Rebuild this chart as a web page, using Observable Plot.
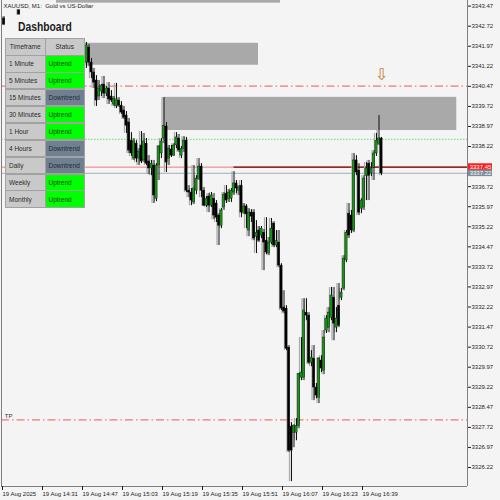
<!DOCTYPE html>
<html><head><meta charset="utf-8">
<script src="https://cdn.jsdelivr.net/npm/d3@7"></script>
<script src="https://cdn.jsdelivr.net/npm/@observablehq/plot@0.6"></script>
<style>
html,body{margin:0;padding:0;background:#f4f4f4;}
#wrap{position:relative;width:500px;height:500px;overflow:hidden;font-family:"Liberation Sans",Arial,sans-serif;}
#wrap svg{display:block;}
.cell{position:absolute;box-sizing:border-box;border:1px solid #a2a2a2;display:flex;align-items:center;padding-left:3px;font-size:6.5px;color:#2a2a2a;white-space:nowrap;}
.dtitle{position:absolute;font-weight:bold;font-size:12px;line-height:12px;color:#1c1c1c;transform:scaleX(0.86);transform-origin:left top;white-space:nowrap;}
</style></head><body><div id="wrap"></div>
<script>
// ---------- data ----------
const symbolTitle = "XAUUSD, M1:  Gold vs US-Dollar";
const dashboardTitle = "Dashboard";
const dashHeader = ["Timeframe", "Status"];
const timeframes = ["1 Minute","5 Minutes","15 Minutes","30 Minutes","1 Hour","4 Hours","Daily","Weekly","Monthly"];
const statuses = ["Uptrend","Uptrend","Downtrend","Uptrend","Uptrend","Downtrend","Downtrend","Uptrend","Uptrend"];

const earlyTimes = ["14:16","14:22"];
const earlyOpen  = [3343.01, 3343.31];
const earlyHigh  = [3343.08, 3343.34];
const earlyLow   = [3342.74, 3343.12];
const earlyClose = [3342.78, 3343.16];

const blockStart = "14:49"; // consecutive M1 bars from here
const open = [
3341.36,3341.92,3341.36,3340.99,3340.69,3340.09,3340.28,3340.54,3340.20,3340.39,
3340.09,3339.79,3339.72,3339.94,3339.75,3339.57,3339.38,3339.12,3338.44,3337.77,
3338.33,3337.77,3338.26,3337.70,3338.33,3337.66,3337.40,3337.51,3336.27,3337.51,
3337.96,3338.52,3338.97,3337.77,3338.11,3337.88,3338.26,3338.52,3337.88,3338.14,
3338.44,3336.57,3336.50,3336.13,3336.57,3337.02,3337.47,3336.57,3336.01,3336.35,
3336.01,3336.27,3336.09,3335.64,3335.26,3335.94,3336.46,3336.27,3336.27,3336.50,
3336.84,3336.57,3336.76,3335.75,3335.98,3335.08,3335.75,3335.75,3334.85,3335.08,
3334.89,3335.00,3334.70,3334.22,3334.63,3335.34,3334.52,3334.63,3333.77,3332.20,
3332.16,3330.70,3327.75,3327.52,3327.52,3327.78,3329.58,3329.58,3332.01,3331.90,
3330.14,3330.29,3329.21,3328.83,3330.22,3329.84,3331.34,3331.45,3331.82,3332.57,
3331.45,3332.27,3332.57,3332.91,3333.96,3335.71,3335.64,3335.08,3337.70,3337.32,
3335.90,3335.94,3337.13,3337.58,3337.21,3337.43,3337.96,3338.33,3338.52];
const high = [
3342.11,3342.03,3341.51,3341.14,3340.87,3340.69,3340.54,3340.84,3340.46,3340.61,
3340.31,3340.09,3340.58,3340.05,3339.90,3339.72,3339.53,3339.27,3338.74,3338.52,
3338.44,3338.14,3338.78,3338.71,3338.52,3337.88,3337.70,3337.70,3337.58,3338.26,
3338.52,3340.05,3339.12,3338.26,3338.26,3338.33,3338.74,3338.67,3338.22,3338.59,
3338.56,3336.76,3336.65,3337.51,3337.13,3337.77,3337.58,3336.69,3336.35,3336.46,
3336.50,3336.46,3336.20,3335.71,3335.90,3336.50,3336.76,3336.61,3336.65,3337.28,
3336.95,3336.76,3336.95,3336.09,3336.05,3335.90,3335.86,3335.86,3335.45,3335.23,
3335.23,3335.12,3335.56,3334.82,3335.53,3335.41,3335.08,3335.08,3333.84,3332.83,
3332.27,3330.78,3327.90,3327.82,3328.05,3329.73,3331.08,3332.53,3332.53,3332.01,
3330.59,3330.78,3329.36,3330.33,3330.40,3331.34,3331.90,3332.20,3332.95,3332.95,
3332.20,3333.10,3332.91,3334.14,3335.08,3336.09,3335.83,3337.96,3337.88,3337.58,
3336.27,3337.13,3337.62,3337.70,3337.62,3338.07,3338.71,3339.38,3338.56];
const low = [
3341.14,3341.21,3340.76,3340.39,3339.72,3339.94,3340.09,3340.01,3340.09,3339.79,
3339.87,3339.72,3339.64,3339.68,3339.42,3339.23,3338.71,3337.96,3337.85,3337.70,
3337.62,3337.51,3337.58,3337.62,3337.51,3337.17,3337.13,3336.09,3336.16,3336.95,
3337.77,3338.33,3337.25,3337.51,3337.81,3337.85,3338.14,3338.00,3337.77,3338.00,
3336.50,3336.31,3336.01,3336.05,3336.42,3336.95,3336.31,3335.98,3335.94,3335.75,
3335.94,3335.49,3335.38,3334.52,3335.15,3335.83,3336.09,3336.13,3336.13,3336.39,
3336.46,3336.39,3335.56,3335.68,3335.15,3334.85,3335.38,3334.70,3334.22,3334.63,
3334.78,3333.58,3334.18,3334.14,3334.55,3334.44,3334.44,3333.69,3332.09,3331.97,
3330.59,3326.78,3325.69,3326.96,3327.22,3327.67,3329.47,3329.47,3331.71,3330.07,
3329.99,3328.72,3328.79,3328.61,3329.77,3329.69,3331.23,3331.26,3331.71,3330.96,
3331.26,3331.45,3332.46,3332.83,3333.88,3334.78,3334.97,3335.00,3337.13,3335.64,
3335.71,3335.83,3336.20,3336.20,3337.10,3336.95,3337.85,3338.26,3337.13];
const close = [
3342.00,3341.36,3340.99,3340.61,3339.94,3340.39,3340.50,3340.20,3340.39,3339.98,
3339.94,3340.01,3339.98,3339.75,3339.49,3339.30,3339.00,3338.07,3337.96,3338.41,
3337.77,3338.03,3337.66,3338.41,3337.58,3337.40,3337.58,3336.39,3337.51,3338.22,
3338.41,3339.00,3337.62,3338.14,3337.88,3338.26,3338.56,3338.07,3338.14,3338.44,
3336.57,3336.50,3336.20,3336.65,3337.02,3337.47,3336.57,3336.01,3336.27,3336.01,
3336.39,3335.64,3335.56,3335.26,3335.83,3336.42,3336.20,3336.50,3336.57,3336.84,
3336.65,3336.69,3335.75,3335.98,3335.68,3335.75,3335.60,3334.78,3335.00,3334.70,
3335.15,3334.63,3334.26,3334.63,3335.15,3334.52,3334.70,3333.77,3332.16,3332.05,
3330.66,3326.85,3326.85,3327.78,3327.78,3329.73,3329.77,3332.09,3331.90,3330.14,
3330.33,3329.21,3328.91,3330.29,3329.92,3331.08,3331.79,3332.01,3332.65,3331.60,
3331.79,3331.52,3332.76,3334.03,3335.00,3334.89,3335.08,3337.70,3337.25,3335.75,
3336.20,3337.02,3337.40,3337.13,3337.40,3337.96,3338.44,3338.52,3337.21];

// supply / demand zones
const zoneStart  = ["14:48:36", "15:19:55", "14:37:00"];
const zoneEnd    = ["15:57:48", "17:17:07", "16:06:36"];
const zoneTop    = [3342.08, 3340.06, 3344.20];
const zoneBottom = [3341.26, 3338.82, 3343.58];

// levels
const resistanceLevel = 3340.48;
const tpLevel = 3328.00;
const dottedLevel = 3338.49;
const entryLevel = 3337.45;
const bidLevel = 3337.22;
const entrySegmentStart = "15:48";
const arrowTime = "16:47";
const arrowPrice = 3340.91;

// axes
const priceTicks = [3343.47,3342.72,3341.97,3341.22,3340.47,3339.72,3338.97,3338.22,
  3336.72,3335.97,3335.22,3334.47,3333.72,3332.97,3332.22,3331.47,3330.72,3329.97,
  3329.22,3328.47,3327.72,3326.97,3326.22];
const timeTickTimes = ["14:15","14:31","14:47","15:03","15:19","15:35","15:51","16:07","16:23","16:39"];
const timeTickLabels = ["19 Aug 2025","19 Aug 14:31","19 Aug 14:47","19 Aug 15:03","19 Aug 15:19",
  "19 Aug 15:35","19 Aug 15:51","19 Aug 16:07","19 Aug 16:23","19 Aug 16:39"];

const xDomain = ["14:15:00", "17:21:24"];
const yDomain = [3325.51, 3343.68];

// ---------- build ----------
const T = s => { const [h, m, sec] = s.split(":").map(Number); return new Date(2025, 7, 19, h, m, sec || 0); };
const addMin = (d, m) => new Date(+d + m * 60000);

const bars = [];
earlyTimes.forEach((t, i) => bars.push({t: T(t), o: earlyOpen[i], h: earlyHigh[i], l: earlyLow[i], c: earlyClose[i]}));
const b0 = T(blockStart);
open.forEach((o, i) => bars.push({t: addMin(b0, i), o, h: high[i], l: low[i], c: close[i]}));
bars.forEach(d => d.up = d.c >= d.o);

const zones = zoneStart.map((s, i) => ({x1: T(s), x2: T(zoneEnd[i]), y1: zoneBottom[i], y2: zoneTop[i]}));
const xStart = T(xDomain[0]), xEnd = T(xDomain[1]);
const tickDates = timeTickTimes.map(T);
const tickLabelMap = new Map(tickDates.map((d, i) => [+d, timeTickLabels[i]]));

const priceBoxes = [
  {p: entryLevel, fill: "#ff1a1a"},
  {p: bidLevel, fill: "#7d8c9b"}
];

const chart = Plot.plot({
  width: 500, height: 500,
  marginLeft: 1, marginRight: 33, marginTop: 0, marginBottom: 14,
  x: {type: "time", domain: [xStart, xEnd]},
  y: {domain: yDomain},
  style: {background: "#f4f4f4", fontFamily: "Liberation Sans, Arial, sans-serif", fontSize: "6px", color: "#1e1e1e"},
  marks: [
    Plot.rect(zones, {x1: "x1", x2: "x2", y1: "y1", y2: "y2", fill: "#a9a9a9", clip: true}),
    Plot.ruleY([resistanceLevel, tpLevel], {stroke: "#ee5a52", strokeWidth: 1, strokeDasharray: "8,3,1.5,3"}),
    Plot.ruleY([dottedLevel], {stroke: "#7ee07e", strokeWidth: 1.2, strokeDasharray: "1.5,1.5"}),
    Plot.ruleY([entryLevel], {stroke: "#f07a7a", strokeWidth: 1}),
    Plot.ruleY([bidLevel], {stroke: "#a3adb8", strokeWidth: 1}),
    Plot.ruleY([entryLevel], {x1: () => T(entrySegmentStart), x2: () => xEnd, stroke: "#7a0000", strokeWidth: 1.2}),
    // ghost candles
    Plot.rect(bars, {x1: d => addMin(d.t, -0.85), x2: d => addMin(d.t, -0.3), y1: "l", y2: "h", fill: "#ababab"}),
    // wicks
    Plot.ruleX(bars, {x: "t", y1: "l", y2: "h", stroke: "#111", strokeWidth: 1}),
    // bodies
    Plot.rect(bars, {x1: d => addMin(d.t, -0.45), x2: d => addMin(d.t, 0.45), y1: "o", y2: "c",
      fill: d => d.up ? "#119a11" : "#000", stroke: "#0a0a0a", strokeWidth: 0.4}),
    // arrow
    Plot.text([{t: T(arrowTime), p: arrowPrice}], {x: "t", y: "p", text: () => "⇩", fontSize: 16,
      fontFamily: "DejaVu Sans", fill: "#c77a32"}),
    // TP label
    Plot.text([{t: addMin(xStart, 1.3), p: tpLevel, label: "TP"}], {x: "t", y: "p", text: "label",
      textAnchor: "start", dy: -4, fontSize: 6, fill: "#333"}),
    // symbol title
    Plot.text([symbolTitle], {frameAnchor: "top-left", dx: 2, dy: 3, lineAnchor: "top", fontSize: 6, fill: "#222"}),
    // frame lines
    Plot.ruleX([xStart, xEnd], {stroke: "#808080"}),
    Plot.ruleY([yDomain[0]], {stroke: "#808080"}),
    // axes
    Plot.axisY(priceTicks, {anchor: "right", tickSize: 3, tickPadding: 1, tickFormat: d => d.toFixed(2), fontSize: 6}),
    Plot.axisX(tickDates, {anchor: "bottom", tickSize: 4, tickPadding: 1, textAnchor: "start", dx: 1,
      tickFormat: d => tickLabelMap.get(+d), fontSize: 6}),
    // current price boxes
    Plot.rect(priceBoxes, {x1: () => addMin(xEnd, 0.4), x2: () => addMin(xEnd, 10), y1: d => d.p - 0.125, y2: d => d.p + 0.125, fill: "fill"}),
    Plot.text(priceBoxes, {x: () => addMin(xEnd, 5.2), y: "p", text: d => d.p.toFixed(2), fill: "#fff", fontSize: 6})
  ]
});

const wrap = document.getElementById("wrap");
wrap.appendChild(chart);

// dashboard overlay
const W = d3.select(wrap);
W.append("div").attr("class", "dtitle").style("left", "18px").style("top", "20.5px").text(dashboardTitle);
const rowH = 16.9, top0 = 38.3, colX = [5, 44.5], colW = [40.5, 40.5];
const rows = [[dashHeader[0], dashHeader[1], true]].concat(timeframes.map((t, i) => [t, statuses[i], false]));
rows.forEach((r, i) => {
  [0, 1].forEach(c => {
    let bg = "#c9c9c9", color = "#2a2a2a";
    if (c === 1 && !r[2]) {
      if (r[1] === "Uptrend") { bg = "#00ff00"; color = "#153d15"; }
      else { bg = "#708090"; color = "#1e2b38"; }
    }
    W.append("div").attr("class", "cell")
      .style("left", colX[c] + "px").style("top", (top0 + i * rowH) + "px")
      .style("width", colW[c] + "px").style("height", (rowH + 0.5) + "px")
      .style("background", bg).style("color", color)
      .style("justify-content", r[2] ? "center" : "flex-start")
      .style("padding-left", r[2] ? "0" : "3px")
      .text(r[c]);
  });
});
</script></body></html>
